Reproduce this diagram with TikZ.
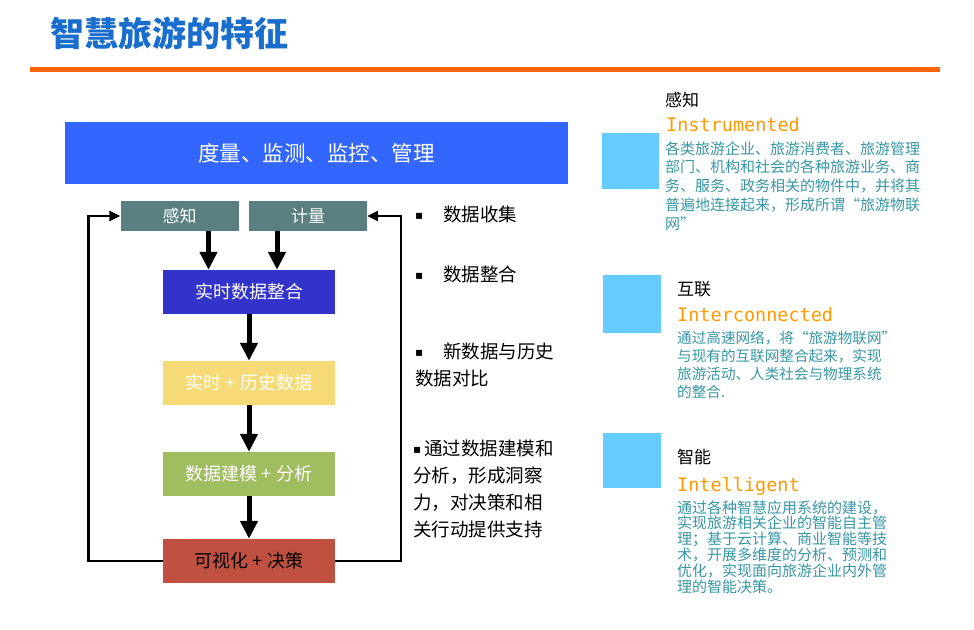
\documentclass[tikz,border=0pt]{standalone}
\usepackage{fontspec}
\setmainfont{Noto Sans CJK SC}
\newfontfamily\mono{DejaVu Sans Mono}
\newfontfamily\dejavu{DejaVu Sans}
\usetikzlibrary{arrows.meta}
\definecolor{titleblue}{RGB}{25,110,205}
\definecolor{lineorange}{RGB}{255,102,0}
\definecolor{bigblue}{RGB}{51,102,255}
\definecolor{slate}{RGB}{90,127,128}
\definecolor{darkblue}{RGB}{51,51,204}
\definecolor{softyellow}{RGB}{247,218,120}
\definecolor{olivegreen}{RGB}{160,190,95}
\definecolor{brickred}{RGB}{192,80,64}
\definecolor{skyblue}{RGB}{102,204,255}
\definecolor{engorange}{RGB}{255,153,0}
\definecolor{descteal}{RGB}{55,150,165}
\newcommand{\mybul}{\raisebox{1.5pt}{\dejavu\fontsize{12}{12}\selectfont ▪}}
\begin{document}
\begin{tikzpicture}[x=1pt,y=-1pt,
  flowbox/.style={minimum width=172pt,minimum height=44pt,inner sep=0pt,text=white,font=\fontsize{18}{18}\selectfont},
  topbox/.style={fill=slate,minimum width=118pt,minimum height=30pt,inner sep=0pt,text=white,font=\fontsize{17}{17}\selectfont},
  bigarrow/.style={line width=5pt,-{Triangle[width=17pt,length=18pt]}},
  fbarrow/.style={line width=2.5pt,-{Triangle[width=10pt,length=11pt]}},
  head/.style={anchor=base west,inner sep=0pt,font=\fontsize{17}{17}\selectfont},
  eng/.style={anchor=base west,inner sep=0pt,text=engorange,font=\mono\fontsize{18.5}{18.5}\selectfont},
  desc/.style={anchor=base west,inner sep=0pt,text=descteal,text width=290pt,align=left},
  bullet/.style={anchor=base west,inner sep=0pt,text width=160pt,align=left,font=\fontsize{18.5}{27}\selectfont},
  square/.style={fill=skyblue}
]
\useasboundingbox (0,0) rectangle (974,629);
% title
\node[anchor=base west,inner sep=0pt,text=titleblue,font=\bfseries\fontsize{34}{34}\selectfont] (title) at (50,46) {智慧旅游的特征};
\fill[lineorange] (30,67) rectangle (940,72);
% big box
\node[fill=bigblue,minimum width=503pt,minimum height=62pt,inner sep=0pt,text=white,font=\fontsize{21.5}{21.5}\selectfont] (big) at (316.5,153) {度量、监测、监控、管理};
% top boxes
\node[topbox] (gz) at (179.5,216) {感知};
\node[topbox] (jl) at (308,216) {计量};
% flow boxes
\node[flowbox,fill=darkblue] (rt) at (249,292) {实时数据整合};
\node[flowbox,fill=softyellow] (hist) at (249,383) {实时 + 历史数据};
\node[flowbox,fill=olivegreen] (model) at (249,474) {数据建模 + 分析};
\node[flowbox,fill=brickred,text=black] (vis) at (249,561) {可视化 + 决策};
% arrows
\draw[bigarrow] ([xshift=29pt]gz.south) -- ([xshift=29pt]gz.south |- rt.north);
\draw[bigarrow] ([xshift=-31pt]jl.south) -- ([xshift=-31pt]jl.south |- rt.north);
\draw[bigarrow] (rt.south) -- (hist.north);
\draw[bigarrow] (hist.south) -- (model.north);
\draw[bigarrow] (model.south) -- (vis.north);
% feedback
\draw[fbarrow] (vis.west) -| ([xshift=-32pt]gz.west) -- (gz.west);
\draw[fbarrow] (vis.east) -| ([xshift=34pt]jl.east) -- (jl.east);
% bullets
\node[bullet] (b1) at (415,221) {\makebox[28pt][l]{\mybul}数据收集};
\node[bullet] (b2) at (415,281) {\makebox[28pt][l]{\mybul}数据整合};
\node[bullet] (b3) at (415,358) {\makebox[28pt][l]{\mybul}新数据与历史\\数据对比};
\node[bullet] (b4) at (413,455) {\makebox[11pt][l]{\mybul}通过数据建模和\\分析，形成洞察\\力，对决策和相\\关行动提供支持};
% right side
\fill[square] (602,133) rectangle (659,189);
\fill[square] (603,275) rectangle (661,333);
\fill[square] (603,433) rectangle (661,488);
\node[head] (h1) at (665,106) {感知};
\node[eng] (e1) at (666,131) {Instrumented};
\node[desc,font=\fontsize{15}{18.8}\selectfont] (d1) at (665,154) {各类旅游企业、旅游消费者、旅游管理\\部门、机构和社会的各种旅游业务、商\\务、服务、政务相关的物件中，并将其\\普遍地连接起来，形成所谓“旅游物联\\网”};
\node[head] (h2) at (677,295) {互联};
\node[eng] (e2) at (677,321) {Interconnected};
\node[desc,font=\fontsize{14.6}{18.3}\selectfont] (d2) at (677,343) {通过高速网络，将“旅游物联网”\\与现有的互联网整合起来，实现\\旅游活动、人类社会与物理系统\\的整合.};
\node[head] (h3) at (677,463) {智能};
\node[eng] (e3) at (677,491) {Intelligent};
\node[desc,font=\fontsize{15}{15.8}\selectfont] (d3) at (677,513) {通过各种智慧应用系统的建设，\\实现旅游相关企业的智能自主管\\理；基于云计算、商业智能等技\\术，开展多维度的分析、预测和\\优化，实现面向旅游企业内外管\\理的智能决策。};
\end{tikzpicture}
\end{document}
